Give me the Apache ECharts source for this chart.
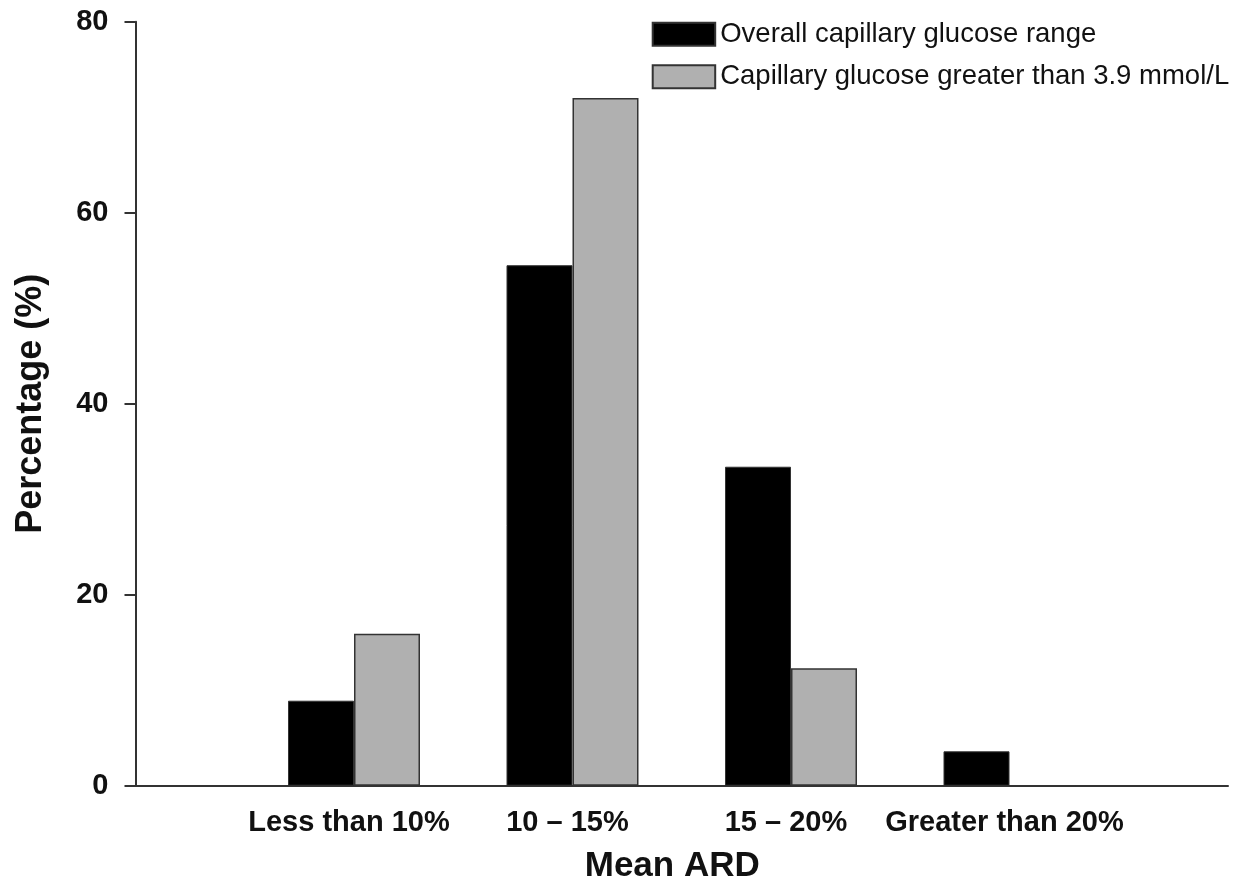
<!DOCTYPE html>
<html>
<head>
<meta charset="utf-8">
<script src="https://cdn.jsdelivr.net/npm/echarts@6/dist/echarts.min.js"></script>
<style>
html,body{margin:0;padding:0;background:#fff;}
#chart{width:1239px;height:884px;}
</style>
</head>
<body>
<div id="chart"></div>
<script>
const categories = ['Less than 10%', '10 \u2013 15%', '15 \u2013 20%', 'Greater than 20%'];
const overallValues = [8.9, 54.5, 33.4, 3.6];
const above39Values = [15.9, 72.0, 12.3, 0];
const yTicks = [0, 20, 40, 60, 80];
const seriesNames = ['Overall capillary glucose range', 'Capillary glucose greater than 3.9 mmol/L'];

const axisCats = [''].concat(categories, ['']);
const pad = arr => [null].concat(arr, [null]);
const FONT = 'Liberation Sans, Arial, Helvetica, sans-serif';

const chart = echarts.init(document.getElementById('chart'));
chart.setOption({
  animation: false,
  textStyle: { fontFamily: FONT },
  grid: { left: 135.5, right: 11, top: 21.7, bottom: 98.3, containLabel: false, outerBoundsMode: 'none' },
  legend: {
    orient: 'vertical',
    left: 651.7,
    top: 20.2,
    padding: 0,
    icon: 'rect',
    itemWidth: 62.5,
    itemHeight: 23,
    itemGap: 14.5,
    align: 'left',
    textStyle: { fontFamily: FONT, fontSize: 27.5, color: '#111', lineHeight: 28 },
    data: seriesNames,
    selectedMode: false
  },
  xAxis: {
    type: 'category',
    data: axisCats,
    boundaryGap: false,
    name: 'Mean ARD',
    nameLocation: 'middle',
    nameGap: 63,
    nameTextStyle: { fontFamily: FONT, fontSize: 35, fontWeight: 'bold', color: '#111', verticalAlign: 'top', padding: [0, 19, 0, 0] },
    axisLine: { lineStyle: { color: '#333', width: 2 } },
    axisTick: { show: false },
    axisLabel: { interval: 0, margin: 23, fontFamily: FONT, fontSize: 29, fontWeight: 'bold', color: '#111', padding: [0, 10, 0, 0] },
    splitLine: { show: false }
  },
  yAxis: {
    type: 'value',
    min: yTicks[0],
    max: yTicks[yTicks.length - 1],
    interval: yTicks[1] - yTicks[0],
    name: 'Percentage (%)',
    nameLocation: 'middle',
    nameGap: 86,
    nameTextStyle: { fontFamily: FONT, fontSize: 36, fontWeight: 'bold', color: '#111' },
    axisLine: { show: true, lineStyle: { color: '#333', width: 2 } },
    axisTick: { show: true, inside: false, length: 11, lineStyle: { color: '#333', width: 2 } },
    axisLabel: { margin: 27, fontFamily: FONT, fontSize: 29, fontWeight: 'bold', color: '#111' },
    splitLine: { show: false }
  },
  series: [
    {
      name: seriesNames[0],
      type: 'bar',
      data: pad(overallValues),
      barWidth: 66,
      barGap: '0%',
      itemStyle: { color: '#000', borderColor: '#333', borderWidth: 1 }
    },
    {
      name: seriesNames[1],
      type: 'bar',
      data: pad(above39Values),
      barWidth: 66,
      barGap: '0%',
      itemStyle: { color: '#b0b0b0', borderColor: '#333', borderWidth: 1.5 }
    }
  ]
});
</script>
</body>
</html>
